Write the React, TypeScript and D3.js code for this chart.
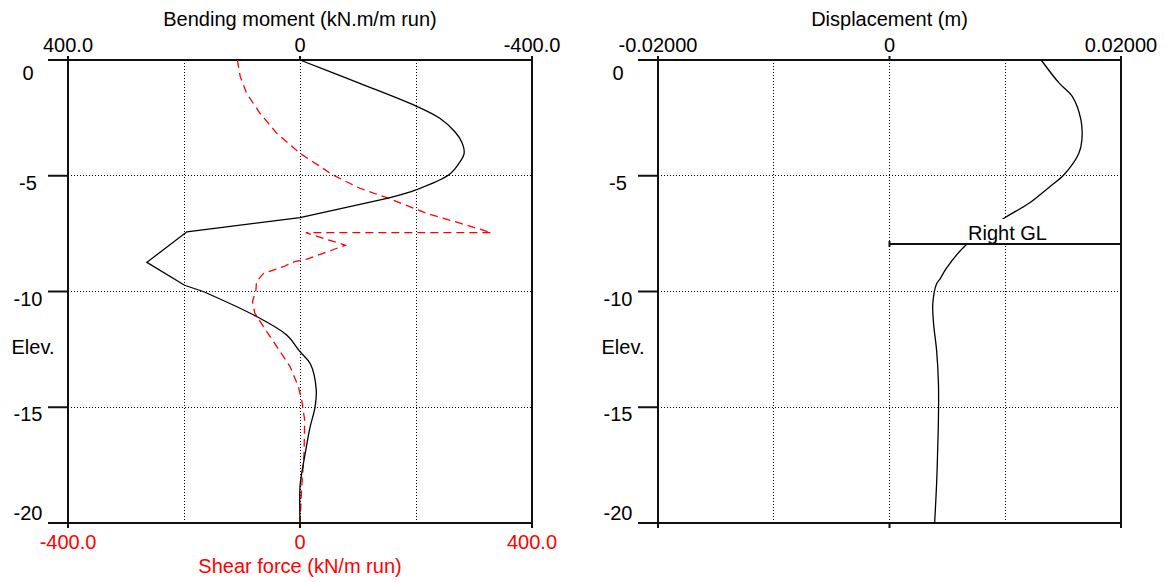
import React from "react";
import * as d3 from "d3";

// ---------- data ----------
const elevTicks = [0, -5, -10, -15, -20];
const elevGrid = [-5, -10, -15];

const momentTicks = [400, 0, -400];
const momentTickLabels = ["400.0", "0", "-400.0"];
const shearTicks = [-400, 0, 400];
const shearTickLabels = ["-400.0", "0", "400.0"];
const forceGrid = [-200, 0, 200];

const dispTicks = [-0.02, 0, 0.02];
const dispTickLabels = ["-0.02000", "0", "0.02000"];
const dispGrid = [-0.01, 0, 0.01];

// Bending moment (kN.m/m run)
const momentElev = [0, -1, -2, -2.52, -3.1, -3.55, -4.03, -4.5, -4.97, -5.6, -5.97, -6.81, -7.42, -8.74, -9.73, -10.0, -11.08, -11.88, -12.6, -13.13, -14.25, -14.98, -15.9, -16.99, -17.85, -18.43, -20];
const momentVal = [0, -102, -201, -241, -267, -279, -283, -273, -256, -201, -152, 0, 195, 264, 199, 167, 75, 23, 0, -18, -28, -26, -17, -9, -3, 0, 0];
// index ranges of the straight (kinked) middle part of the moment diagram
const momentKinkStart = 10;
const momentKinkEnd = 15;

// Shear force (kN/m run)
const shearElev = [0, -0.72, -1.44, -2.3, -3.17, -4.03, -4.97, -5.54, -5.97, -6.62, -7.05, -7.46, -7.46, -8.0, -8.35, -8.6, -8.71, -8.93, -9.22, -9.57, -9.94, -10.44, -10.93, -11.52, -12.38, -13.25, -14.1, -14.69, -15.55, -17, -18.43, -20];
const shearVal = [-108, -103, -92, -69, -40, 0, 57, 103, 152, 218, 276, 330, 10, 78, 40, 12, -9, -29, -63, -75, -76, -82, -78, -63, -40, -17, -3, 3, 8, 7, 3, 0];

// Displacement (m)
const dispElev = [0, -1.0, -1.58, -2.59, -3.46, -4.03, -4.97, -5.47, -6.19, -6.77, -7.4, -8.0, -9.02, -9.43, -9.67, -10.53, -11.4, -12.55, -13.99, -15.43, -16.87, -18.3, -20];
const dispVal = [0.0131, 0.01466, 0.0158, 0.01654, 0.01662, 0.01636, 0.01505, 0.01385, 0.01205, 0.0101, 0.0082, 0.00658, 0.00488, 0.0044, 0.00407, 0.00374, 0.00381, 0.00407, 0.00423, 0.00423, 0.00416, 0.00407, 0.0039];

const groundLevel = -7.95;

// ---------- layout ----------
const W = 1169;
const H = 582;
const top = 60;
const bottom = 523;
const FONT = "'Liberation Sans', Arial, sans-serif";
const FS = 20;

const y = d3.scaleLinear().domain([0, -20]).range([top, bottom]);
const xM = d3.scaleLinear().domain([400, -400]).range([68, 532]);
const xV = d3.scaleLinear().domain([-400, 400]).range([68, 532]);
const xD = d3.scaleLinear().domain([-0.02, 0.02]).range([658, 1121]);

type Pt = [number, number];

function Frame({ x0, x1, gridXs, labelCx }: { x0: number; x1: number; gridXs: number[]; labelCx: number }) {
  const ext = 20;
  return (
    <g>
      {gridXs.map((gx, i) => (
        <line key={"gx" + i} x1={gx} x2={gx} y1={top} y2={bottom} stroke="#000" strokeWidth={1} strokeDasharray="1,2" shapeRendering="crispEdges" />
      ))}
      {elevGrid.map((e, i) => (
        <line key={"gy" + i} x1={x0} x2={x1} y1={y(e)} y2={y(e)} stroke="#000" strokeWidth={1} strokeDasharray="1,2" shapeRendering="crispEdges" />
      ))}
      <line x1={x0 - ext} x2={x1 + 1} y1={top} y2={top} stroke="#111" strokeWidth={2} />
      <line x1={x0 - ext} x2={x1 + 1} y1={bottom} y2={bottom} stroke="#111" strokeWidth={2} />
      <line x1={x0} x2={x0} y1={top - 3} y2={bottom + 5} stroke="#111" strokeWidth={2} />
      <line x1={x1} x2={x1} y1={top - 3} y2={bottom + 5} stroke="#111" strokeWidth={2} />
      {elevGrid.map((e, i) => (
        <line key={"yt" + i} x1={x0 - ext} x2={x0} y1={y(e)} y2={y(e)} stroke="#111" strokeWidth={2} />
      ))}
      {elevTicks.map((e, i) => {
        const off = e === 0 ? 20 : e === -20 ? -3 : 14;
        return (
          <text key={"yl" + i} x={labelCx} y={y(e) + off} textAnchor="middle" fontFamily={FONT} fontSize={FS} fill="#000">
            {String(e)}
          </text>
        );
      })}
      <text x={labelCx + 5} y={354} textAnchor="middle" fontFamily={FONT} fontSize={FS} fill="#000">Elev.</text>
    </g>
  );
}

export default function App() {
  const smooth = d3.curveCatmullRom.alpha(0.5);
  const lineMs = d3.line<Pt>().x((d) => xM(d[0])).y((d) => y(d[1])).curve(smooth);
  const lineMl = d3.line<Pt>().x((d) => xM(d[0])).y((d) => y(d[1]));
  const lineV = d3.line<Pt>().x((d) => xV(d[0])).y((d) => y(d[1]));
  const lineD = d3.line<Pt>().x((d) => xD(d[0])).y((d) => y(d[1])).curve(smooth);

  const mPts: Pt[] = momentVal.map((v, i) => [v, momentElev[i]]);
  const vPts: Pt[] = shearVal.map((v, i) => [v, shearElev[i]]);
  const dPts: Pt[] = dispVal.map((v, i) => [v, dispElev[i]]);

  const mTop = mPts.slice(0, momentKinkStart + 1);
  const mMid = mPts.slice(momentKinkStart, momentKinkEnd + 1);
  const mBot = mPts.slice(momentKinkEnd);

  const glY = y(groundLevel);

  return (
    <svg width={W} height={H} style={{ position: "absolute", left: 0, top: 0, background: "#fff" }}>
      <rect x={0} y={0} width={W} height={H} fill="#fff" />

      {/* ----- Left panel ----- */}
      <Frame x0={xM(400)} x1={xM(-400)} gridXs={forceGrid.map((v) => xV(v))} labelCx={28} />
      <text x={xM(0)} y={26} textAnchor="middle" fontFamily={FONT} fontSize={FS} fill="#000">Bending moment (kN.m/m run)</text>
      {momentTicks.map((t, i) => (
        <g key={"mt" + i}>
          <line x1={xM(t)} x2={xM(t)} y1={top - 4} y2={top} stroke="#111" strokeWidth={2} />
          <text x={xM(t)} y={52} textAnchor="middle" fontFamily={FONT} fontSize={FS} fill="#000">{momentTickLabels[i]}</text>
        </g>
      ))}
      {shearTicks.map((t, i) => (
        <g key={"st" + i}>
          <line x1={xV(t)} x2={xV(t)} y1={bottom} y2={bottom + 5} stroke="#111" strokeWidth={2} />
          <text x={xV(t)} y={549} textAnchor="middle" fontFamily={FONT} fontSize={FS} fill="#ff0000">{shearTickLabels[i]}</text>
        </g>
      ))}
      <text x={xV(0)} y={573} textAnchor="middle" fontFamily={FONT} fontSize={FS} fill="#ff0000">Shear force (kN/m run)</text>

      <path d={lineV(vPts) || ""} fill="none" stroke="#ff0000" strokeWidth={1.3} strokeDasharray="8,5" />
      <path d={lineMs(mTop) || ""} fill="none" stroke="#000" strokeWidth={1.3} />
      <path d={lineMl(mMid) || ""} fill="none" stroke="#000" strokeWidth={1.3} strokeLinejoin="miter" />
      <path d={lineMs(mBot) || ""} fill="none" stroke="#000" strokeWidth={1.3} />

      {/* ----- Right panel ----- */}
      <Frame x0={xD(-0.02)} x1={xD(0.02)} gridXs={dispGrid.map((v) => xD(v))} labelCx={618} />
      <text x={xD(0)} y={26} textAnchor="middle" fontFamily={FONT} fontSize={FS} fill="#000">Displacement (m)</text>
      {dispTicks.map((t, i) => (
        <g key={"dt" + i}>
          <line x1={xD(t)} x2={xD(t)} y1={top - 4} y2={top} stroke="#111" strokeWidth={2} />
          <line x1={xD(t)} x2={xD(t)} y1={bottom} y2={bottom + 5} stroke="#111" strokeWidth={2} />
          <text x={xD(t)} y={52} textAnchor="middle" fontFamily={FONT} fontSize={FS} fill="#000">{dispTickLabels[i]}</text>
        </g>
      ))}

      <path d={lineD(dPts) || ""} fill="none" stroke="#000" strokeWidth={1.3} />

      {/* Right ground level */}
      <rect x={964} y={219} width={90} height={glY - 220} fill="#fff" />
      <text x={968} y={glY - 4} fontFamily={FONT} fontSize={FS} fill="#000">Right GL</text>
      <line x1={xD(0)} x2={xD(0.02)} y1={glY} y2={glY} stroke="#111" strokeWidth={2} />
      <line x1={xD(0)} x2={xD(0)} y1={glY - 3} y2={glY + 3} stroke="#111" strokeWidth={2} />
    </svg>
  );
}
